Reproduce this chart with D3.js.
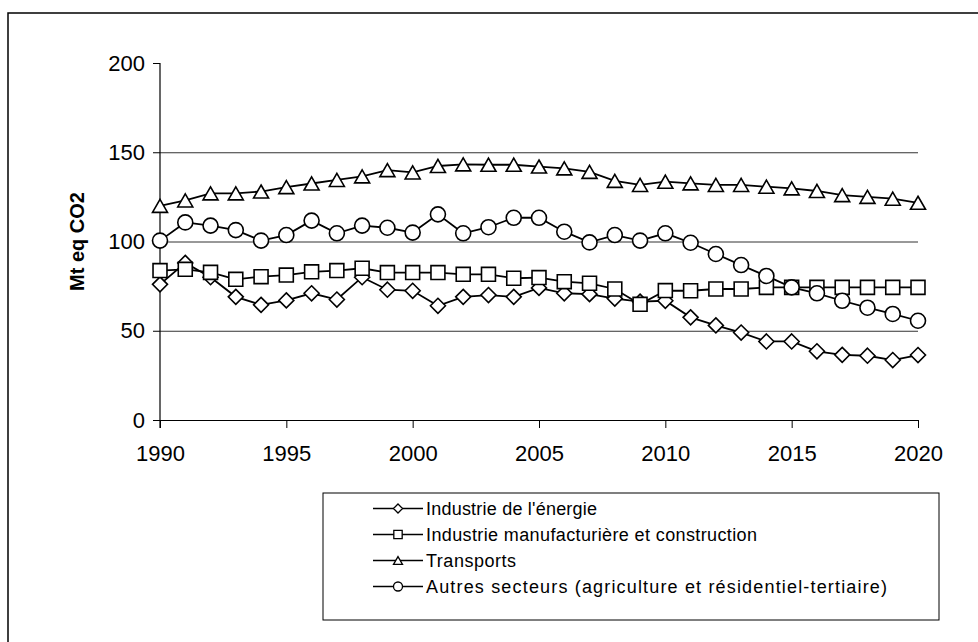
<!DOCTYPE html>
<html>
<head>
<meta charset="utf-8">
<script src="https://cdn.jsdelivr.net/npm/d3@7"></script>
<style>
  html, body { margin: 0; padding: 0; background: #fff; }
  svg { display: block; font-family: "Liberation Sans", Arial, Helvetica, sans-serif; }
</style>
</head>
<body>
<svg id="chart" width="978" height="642"></svg>
<script>
// Émissions de gaz à effet de serre par secteur, Mt eq CO2
const years = [1990, 1991, 1992, 1993, 1994, 1995, 1996, 1997, 1998, 1999,
               2000, 2001, 2002, 2003, 2004, 2005, 2006, 2007, 2008, 2009,
               2010, 2011, 2012, 2013, 2014, 2015, 2016, 2017, 2018, 2019, 2020];

const energie = [76, 88, 80, 69, 64.5, 67, 71, 67.5, 80, 73,
                 72.4, 64, 69, 70, 69, 74, 71, 70.5, 68, 66.3,
                 66.8, 57.5, 53, 49, 44, 44, 38.5, 36.5, 36, 33.6, 36.4];

const manufacture = [83.7, 84.4, 82.7, 78.8, 80.3, 81.2, 83, 83.7, 85, 82.6,
                     82.6, 82.6, 81.6, 81.6, 79.4, 79.8, 77.5, 76.6, 73.4, 64.8,
                     72.5, 72.4, 73.4, 73.4, 74.3, 74.3, 74.3, 74.3, 74.3, 74.3, 74.3];

const transports = [120, 123, 127, 127, 128, 130.5, 132.5, 134.5, 136.5, 140,
                    138.7, 142.3, 143.2, 143, 143, 142, 141, 139, 134, 131.7,
                    133.5, 132.6, 131.7, 131.7, 130.7, 129.8, 128.3, 126, 125, 124, 121.7];

const autres = [100.5, 110.7, 108.9, 106.4, 100.5, 103.6, 111.7, 104.6, 108.9, 107.7,
                105, 115.2, 104.6, 108, 113.3, 113.3, 105.5, 99.5, 103.6, 100.5,
                104.6, 99.3, 93, 86.8, 80.7, 74.3, 71, 66.8, 62.9, 59.4, 55.6];

const seriesNames = [
  "Industrie de l'énergie",
  "Industrie manufacturière et construction",
  "Transports",
  "Autres secteurs (agriculture et résidentiel-tertiaire)"
];
const seriesMarkers = ["diamond", "square", "triangle", "circle"];

const yTicks = [0, 50, 100, 150, 200];
const yGrid = [50, 100, 150];
const xTicks = [1990, 1995, 2000, 2005, 2010, 2015, 2020];
const yTitle = "Mt eq CO2";

// legend label widths (Excel-style loose spacing)
const legendTextWidths = [171, 331, 90, 461];

const series = [energie, manufacture, transports, autres].map((vals, i) => ({
  name: seriesNames[i],
  marker: seriesMarkers[i],
  points: years.map((yr, j) => ({ year: yr, value: vals[j] }))
}));

const svg = d3.select("#chart");

// outer chart frame
svg.append("rect")
  .attr("x", 8).attr("y", 13)
  .attr("width", 1000).attr("height", 700)
  .attr("fill", "#fff").attr("stroke", "#000").attr("stroke-width", 1.5);

const x = d3.scaleLinear().domain([1990, 2020]).range([160, 918]);
const y = d3.scaleLinear().domain([0, 200]).range([420, 63]);

// horizontal gridlines
svg.append("g")
  .attr("transform", `translate(${x(1990)},0)`)
  .call(d3.axisLeft(y).tickValues(yGrid).tickSize(-(x(2020) - x(1990))).tickFormat(""))
  .call(g => g.select(".domain").remove())
  .call(g => g.selectAll("line").attr("stroke", "#333").attr("stroke-width", 1));

// y axis
const yAxis = svg.append("g")
  .attr("transform", `translate(${x(1990)},0)`)
  .call(d3.axisLeft(y).tickValues(yTicks).tickSize(7).tickSizeOuter(0).tickPadding(8))
  .call(g => g.select(".domain").remove());
yAxis.selectAll("line").attr("stroke", "#000");
yAxis.selectAll("text").attr("font-size", 22).attr("fill", "#000")
  .attr("font-family", "Liberation Sans, Arial, sans-serif");

svg.append("line")
  .attr("x1", x(1990)).attr("x2", x(1990))
  .attr("y1", y(200)).attr("y2", y(0) + 8)
  .attr("stroke", "#000").attr("stroke-width", 1.2);

// x axis
const xAxis = svg.append("g")
  .attr("transform", `translate(0,${y(0)})`)
  .call(d3.axisBottom(x).tickValues(xTicks).tickFormat(d3.format("d"))
        .tickSize(8).tickSizeOuter(0).tickPadding(17));
xAxis.select(".domain").attr("stroke", "#000").attr("stroke-width", 1.2);
xAxis.selectAll("line").attr("stroke", "#000");
xAxis.selectAll("text").attr("font-size", 22).attr("fill", "#000")
  .attr("font-family", "Liberation Sans, Arial, sans-serif");

// y axis title
svg.append("text")
  .attr("transform", `translate(84,${(y(0) + y(200)) / 2}) rotate(-90)`)
  .attr("text-anchor", "middle")
  .attr("font-size", 20).attr("font-weight", "bold")
  .text(yTitle);

// marker shapes, centred on the origin
function markerPath(type, s) {
  const p = d3.path();
  if (type === "diamond") {
    p.moveTo(0, -s); p.lineTo(s, 0); p.lineTo(0, s); p.lineTo(-s, 0); p.closePath();
  } else if (type === "square") {
    const h = s * 0.93;
    p.rect(-h, -h, 2 * h, 2 * h);
  } else if (type === "triangle") {
    const h = s * 0.87;
    p.moveTo(0, -h); p.lineTo(s, h); p.lineTo(-s, h); p.closePath();
  } else {
    p.arc(0, 0, s, 0, 2 * Math.PI);
  }
  return p.toString();
}

const line = d3.line().x(d => x(d.year)).y(d => y(d.value));

const plot = svg.append("g");
series.forEach(s => {
  const g = plot.append("g");
  g.append("path")
    .datum(s.points)
    .attr("d", line)
    .attr("fill", "none").attr("stroke", "#000").attr("stroke-width", 1.8);
  g.selectAll("path.mark")
    .data(s.points)
    .join("path")
    .attr("class", "mark")
    .attr("transform", d => `translate(${x(d.year)},${y(d.value)})`)
    .attr("d", markerPath(s.marker, 7.5))
    .attr("fill", "#fff").attr("stroke", "#000").attr("stroke-width", 1.6);
});

// legend
const legend = svg.append("g");
legend.append("rect")
  .attr("x", 323).attr("y", 493).attr("width", 616).attr("height", 127)
  .attr("fill", "#fff").attr("stroke", "#000").attr("stroke-width", 1);

series.forEach((s, i) => {
  const base = 515 + i * 26;
  const cy = base - 6.5;
  legend.append("line")
    .attr("x1", 373).attr("x2", 423).attr("y1", cy).attr("y2", cy)
    .attr("stroke", "#000").attr("stroke-width", 1.5);
  legend.append("path")
    .attr("transform", `translate(398,${cy})`)
    .attr("d", markerPath(s.marker, 4.5))
    .attr("fill", "#fff").attr("stroke", "#000").attr("stroke-width", 1.3);
  legend.append("text")
    .attr("x", 426).attr("y", base)
    .attr("font-size", 18).attr("fill", "#000")
    .attr("textLength", legendTextWidths[i])
    .attr("lengthAdjust", "spacing")
    .text(s.name);
});
</script>
</body>
</html>
